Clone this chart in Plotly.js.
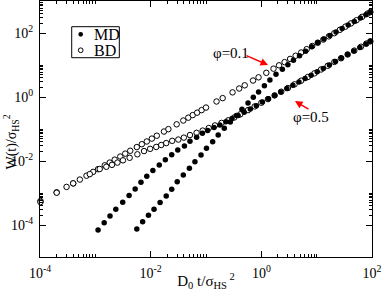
<!DOCTYPE html>
<html>
<head>
<meta charset="utf-8">
<script src="https://cdn.plot.ly/plotly-3.0.1.min.js"></script>
<style>html,body{margin:0;padding:0;background:#fff}#chart{width:382px;height:291px}</style>
</head>
<body>
<div id="chart"></div>
<script>
// Molecular dynamics, phi = 0.5 (filled)
const tMD05 = [1.12e-3,1.445e-3,1.841e-3,2.344e-3,3.126e-3,4.074e-3,5.248e-3,6.683e-3,8.511e-3,1.096e-2,1.429e-2,1.841e-2,2.399e-2,3.090e-2,4.074e-2,5.129e-2,6.761e-2,8.610e-2,0.1072,0.1396,0.1778,0.2291,0.2951,0.3802,0.4898,0.6310,0.8128,1.047,1.349,1.738,2.239,2.884,3.715,4.786,6.166,7.943,10.23,13.18,16.98,21.88,28.18,36.31,46.77,60.26,77.62,93.33];
const wMD05 = [6.92e-5,1.18e-4,1.91e-4,3.09e-4,5.13e-4,8.32e-4,1.33e-3,2.16e-3,3.31e-3,5.01e-3,7.50e-3,1.10e-2,1.58e-2,2.21e-2,2.95e-2,4.12e-2,5.50e-2,7.33e-2,8.91e-2,0.112,0.133,0.170,0.211,0.266,0.331,0.422,0.537,0.692,0.881,1.122,1.445,1.841,2.344,2.951,3.758,4.786,6.166,7.762,10.0,12.88,16.60,21.38,27.54,35.48,45.71,54.95];
// Molecular dynamics, phi = 0.1 (filled)
const tMD01 = [5.62e-3,7.16e-3,9.12e-3,1.15e-2,1.48e-2,1.91e-2,2.40e-2,3.02e-2,3.89e-2,5.01e-2,6.31e-2,8.13e-2,0.102,0.132,0.166,0.214,0.275,0.355,0.447,0.575,0.716,0.891,1.135,1.429,1.841,2.399,3.020,3.802,4.898,6.310,8.128,10.47,13.49,17.38,22.39,28.84,37.15,47.86,61.66,77.62,93.33];
const wMD01 = [7.50e-5,1.26e-4,2.00e-4,3.09e-4,5.01e-4,8.04e-4,1.30e-3,2.24e-3,3.63e-3,5.89e-3,9.55e-3,1.55e-2,2.51e-2,4.03e-2,6.46e-2,0.105,0.166,0.263,0.412,0.646,0.977,1.445,2.239,3.388,5.129,7.413,10.23,14.13,19.50,26.92,37.15,50.12,64.57,83.18,107.2,138.0,177.8,229.1,295.1,371.5,446.7];
// Brownian dynamics, phi = 0.1 (open)
const tBD01 = [1.02e-4,2.00e-4,3.02e-4,3.98e-4,5.25e-4,6.92e-4,9.12e-4,1.12e-3,1.48e-3,1.82e-3,2.24e-3,2.82e-3,3.47e-3,4.27e-3,5.62e-3,6.92e-3,8.51e-3,1.05e-2,1.29e-2,1.74e-2,2.09e-2,2.95e-2,3.89e-2,4.79e-2,5.75e-2,6.92e-2,8.32e-2,0.1,0.155,0.200,0.302,0.398,0.501,0.708,0.891,1.230,1.660,2.089,2.630,3.311,4.169,5.248,6.607,8.318,10.47,13.18,16.60,20.89,26.30,33.11,41.69,52.48,66.07,83.18,93.33];
const wBD01 = [5.62e-4,1.05e-3,1.55e-3,2.00e-3,2.63e-3,3.47e-3,4.57e-3,5.56e-3,7.33e-3,8.91e-3,1.10e-2,1.38e-2,1.70e-2,2.09e-2,2.72e-2,3.35e-2,4.07e-2,5.01e-2,6.17e-2,8.32e-2,9.89e-2,0.140,0.184,0.226,0.272,0.324,0.389,0.468,0.724,0.923,1.396,1.841,2.317,3.273,4.121,5.689,7.674,9.772,12.30,15.49,19.50,24.55,31.26,39.36,49.55,62.37,78.52,98.86,125.9,158.5,199.5,251.2,319.9,402.7,451.9];
// Brownian dynamics, phi = 0.5 (open)
const tBD05 = [1.02e-4,2.00e-4,3.98e-4,7.94e-4,1.20e-3,1.58e-3,2.00e-3,2.51e-3,3.16e-3,4.17e-3,5.75e-3,7.59e-3,9.77e-3,1.26e-2,1.55e-2,1.91e-2,2.45e-2,3.16e-2,3.98e-2,5.13e-2,6.76e-2,8.71e-2,0.112,0.145,0.191,0.251,0.324,0.417,0.575,0.759,1.0,1.318,1.738,2.291,3.020,3.981,5.248,6.918,9.120,12.02,15.85,20.89,27.54,36.31,47.86,63.10,79.43,93.33];
const wBD05 = [5.20e-4,1.02e-3,2.00e-3,3.89e-3,5.62e-3,6.61e-3,7.59e-3,8.91e-3,1.05e-2,1.26e-2,1.62e-2,2.04e-2,2.40e-2,2.75e-2,3.16e-2,3.63e-2,4.27e-2,4.68e-2,5.37e-2,6.46e-2,7.59e-2,8.91e-2,0.107,0.129,0.155,0.186,0.229,0.288,0.389,0.507,0.661,0.861,1.122,1.462,1.905,2.483,3.236,4.217,5.495,7.244,9.441,12.45,16.22,21.38,28.18,37.15,46.77,54.95];

// Axis ticks
const xTickVals = [1e-4, 1e-2, 1, 100];
const xTickText = ['10<sup>-4</sup>', '10<sup>-2</sup>', '10<sup>0</sup>', '10<sup>2</sup>'];
const yTickVals = [1e-4, 1e-2, 1, 100];
const yTickText = ['10<sup>-4</sup>', '10<sup>-2</sup>', '10<sup>0</sup>', '10<sup>2</sup>'];
const xMinor = [2e-4,3e-4,4e-4,5e-4,6e-4,7e-4,8e-4,9e-4,1e-3,2e-2,3e-2,4e-2,5e-2,6e-2,7e-2,8e-2,9e-2,1e-1,2,3,4,5,6,7,8,9,10];
const yMinor = [2e-4,3e-4,4e-4,5e-4,6e-4,7e-4,8e-4,9e-4,1e-3,2e-2,3e-2,4e-2,5e-2,6e-2,7e-2,8e-2,9e-2,1e-1,2,3,4,5,6,7,8,9,10,200,300,400,500,600,700,800,900];

const serif = 'Liberation Serif, Times New Roman, serif';
const filled = {symbol: 'circle', size: 5.5, color: 'black', line: {width: 0}};
const open = {symbol: 'circle', size: 5.5, color: 'white', line: {width: 1, color: 'black'}};

const traces = [
  {x: tBD01, y: wBD01, mode: 'markers', marker: open, name: 'BD φ=0.1', showlegend: false, cliponaxis: false},
  {x: tBD05, y: wBD05, mode: 'markers', marker: open, name: 'BD φ=0.5', showlegend: false, cliponaxis: false},
  {x: tMD01, y: wMD01, mode: 'markers', marker: filled, name: 'MD φ=0.1', showlegend: false, cliponaxis: false},
  {x: tMD05, y: wMD05, mode: 'markers', marker: filled, name: 'MD φ=0.5', showlegend: false, cliponaxis: false}
];

function axisBase() {
  return {
    type: 'log', showgrid: false, zeroline: false,
    showline: true, linecolor: 'black', linewidth: 1, mirror: 'allticks',
    ticks: 'inside', ticklen: 6, tickwidth: 1, tickcolor: 'black',
    tickmode: 'array', ticklabelstandoff: 3,
    tickfont: {family: serif, size: 14, color: 'black'}
  };
}
const xaxis = Object.assign(axisBase(), {
  range: [-4, 2], tickvals: xTickVals, ticktext: xTickText,
  minor: {tickvals: xMinor, ticks: 'inside', ticklen: 3, tickwidth: 1, tickcolor: 'black', showgrid: false},
  title: {text: 'D<sub>0</sub> t/σ<sub>HS</sub><sup> 2</sup>', font: {family: serif, size: 15, color: 'black'}, standoff: 1}
});
const yaxis = Object.assign(axisBase(), {
  range: [-5, 3], tickvals: yTickVals, ticktext: yTickText,
  minor: {tickvals: yMinor, ticks: 'inside', ticklen: 3, tickwidth: 1, tickcolor: 'black', showgrid: false}
});

const layout = {
  width: 382, height: 291,
  margin: {l: 40, r: 10, t: 1, b: 34},
  paper_bgcolor: 'white', plot_bgcolor: 'white',
  showlegend: false,
  xaxis: xaxis, yaxis: yaxis,
  shapes: [
    {type: 'rect', xref: 'paper', yref: 'paper', x0: 0.0955, x1: 0.2389, y0: 0.7785, y1: 0.8996, line: {color: 'black', width: 1}, fillcolor: 'white'},
    {type: 'circle', xref: 'paper', yref: 'paper', x0: 0.1155, x1: 0.1297, y0: 0.8606, y1: 0.8790, line: {width: 0}, fillcolor: 'black'},
    {type: 'circle', xref: 'paper', yref: 'paper', x0: 0.1155, x1: 0.1297, y0: 0.7984, y1: 0.8168, line: {width: 1, color: 'black'}, fillcolor: 'white'}
  ],
  annotations: [
    {xref: 'paper', yref: 'paper', x: -0.088, y: 0.45, xanchor: 'center', yanchor: 'middle', textangle: -90, text: 'W(t)/σ<sub>HS</sub><sup>2</sup>', showarrow: false, font: {family: serif, size: 14, color: 'black'}},
    {xref: 'paper', yref: 'paper', x: 0.1566, y: 0.870, xanchor: 'left', yanchor: 'middle', text: 'MD', showarrow: false, font: {family: serif, size: 16, color: 'black'}},
    {xref: 'paper', yref: 'paper', x: 0.1566, y: 0.8074, xanchor: 'left', yanchor: 'middle', text: 'BD', showarrow: false, font: {family: serif, size: 16, color: 'black'}},
    {xref: 'paper', yref: 'paper', x: 0.575, y: 0.836, text: 'φ=0.1', showarrow: false, font: {family: serif, size: 15, color: 'black'}},
    {xref: 'paper', yref: 'paper', x: 0.8765, y: 0.547, text: 'φ=0.5', showarrow: false, font: {family: serif, size: 15, color: 'black'}},
    {xref: 'paper', yref: 'paper', x: 0.6867, y: 0.750, ax: -23, ay: -10, text: '', showarrow: true, arrowcolor: 'red', arrowwidth: 1.5, arrowhead: 2, arrowsize: 1},
    {xref: 'paper', yref: 'paper', x: 0.768, y: 0.609, ax: 15, ay: 9, text: '', showarrow: true, arrowcolor: 'red', arrowwidth: 1.5, arrowhead: 2, arrowsize: 1}
  ]
};

Plotly.newPlot('chart', traces, layout, {displayModeBar: false, staticPlot: true});
</script>
</body>
</html>
